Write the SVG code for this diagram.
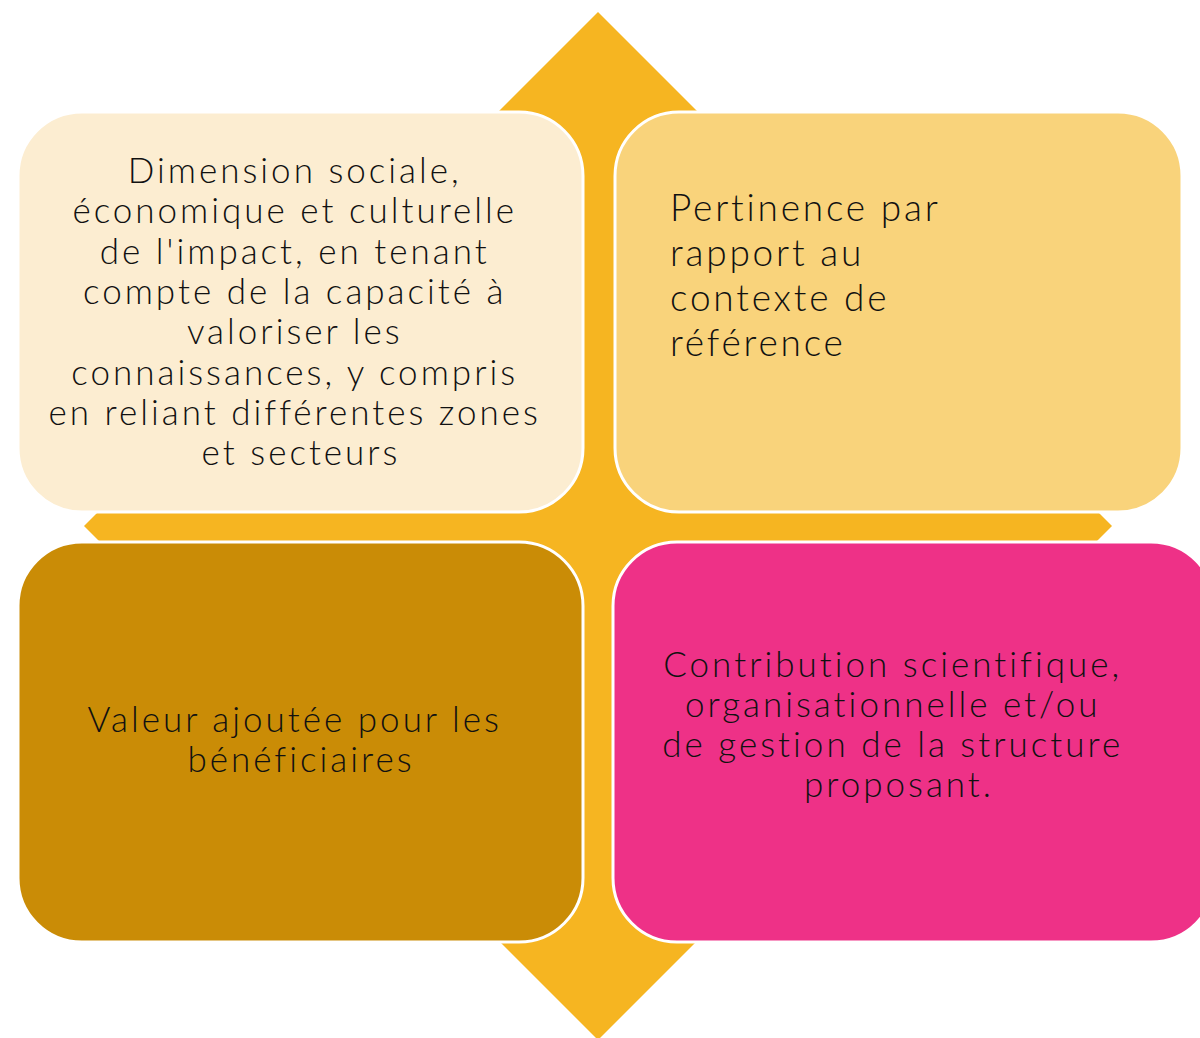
<svg xmlns="http://www.w3.org/2000/svg" width="1200" height="1038" viewBox="0 0 1200 1038">
<style>
.box{stroke:#FFFFFF;stroke-width:3}
.t{font-family:"Century Gothic","Lato","DejaVu Sans",sans-serif;font-weight:300;font-size:35px;fill:#111111;letter-spacing:3px;font-variant-ligatures:none}
.c{text-anchor:middle}
.big{font-size:37px;letter-spacing:2.8px}
</style>
<rect width="1200" height="1038" fill="#FFFFFF"/>
<g id="background">
<polygon points="598,12 1112,526 598,1040 84,526" fill="#F6B521"/>
</g>
<g id="connectors"></g>
<g id="node1">
<rect class="box" x="18" y="112" width="565" height="400" rx="64" fill="#FCEDD1"/>
<text class="t c" x="301">
<tspan x="301" y="183">Dimension sociale,</tspan>
<tspan x="301" y="223">économique et culturelle</tspan>
<tspan x="301" y="264">de l'impact, en tenant</tspan>
<tspan x="301" y="304">compte de la capacité à</tspan>
<tspan x="301" y="344">valoriser les</tspan>
<tspan x="301" y="385">connaissances, y compris</tspan>
<tspan x="301" y="425">en reliant différentes zones</tspan>
<tspan x="301" y="465">et secteurs</tspan>
</text>
</g>
<g id="node2">
<rect class="box" x="615" y="112" width="567" height="400" rx="64" fill="#F9D37B"/>
<text class="t big" x="670">
<tspan x="670" y="221">Pertinence par</tspan>
<tspan x="670" y="266">rapport au</tspan>
<tspan x="670" y="311">contexte de</tspan>
<tspan x="670" y="356">référence</tspan>
</text>
</g>
<g id="node3">
<rect class="box" x="18" y="542" width="565" height="400" rx="64" fill="#CA8C06"/>
<text class="t c" x="301">
<tspan x="301" y="732">Valeur ajoutée pour les</tspan>
<tspan x="301" y="772">bénéficiaires</tspan>
</text>
</g>
<g id="node4">
<rect class="box" x="613" y="542" width="602" height="400" rx="64" fill="#EE3187"/>
<text class="t c" x="899">
<tspan x="899" y="677">Contribution scientifique,</tspan>
<tspan x="899" y="717">organisationnelle et/ou</tspan>
<tspan x="899" y="757">de gestion de la structure</tspan>
<tspan x="899" y="797">proposant.</tspan>
</text>
</g>
</svg>
